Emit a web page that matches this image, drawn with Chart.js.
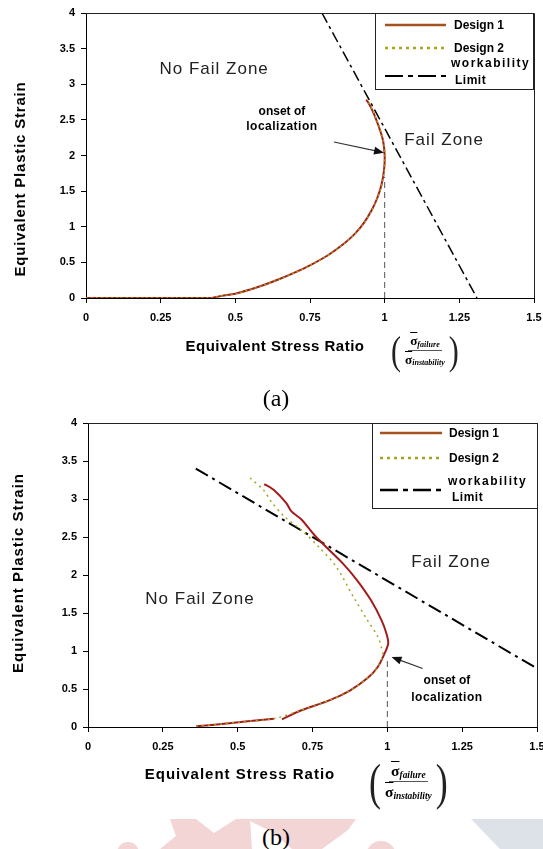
<!DOCTYPE html>
<html>
<head>
<meta charset="utf-8">
<script src="https://cdn.jsdelivr.net/npm/chart.js@4.4.0/dist/chart.umd.min.js"></script>
<style>
  html, body { margin: 0; padding: 0; background: #fff; }
  #page { position: relative; width: 543px; height: 849px; overflow: hidden; font-family: "Liberation Sans", Arial, sans-serif; }
  canvas { position: absolute; left: 0; }
  .ytitle { position: absolute; font-weight: bold; white-space: nowrap; transform: translate(-50%, -50%) rotate(-90deg); }
  .xtitle { position: absolute; font-weight: bold; white-space: nowrap; transform: translate(-50%, -50%); }
  .cap { position: absolute; font-family: "Liberation Serif", serif; font-size: 24px; transform: translate(-50%, -50%); }
  .frac { position: absolute; display: flex; align-items: center; font-family: "Liberation Serif", serif; }
  .par { display: inline-block; line-height: 1; font-weight: normal; color: #222; }
  .fr { display: inline-flex; flex-direction: column; align-items: center; margin: 0 2px; }
  .fr > span { white-space: nowrap; padding: 0 2px; line-height: 1.3; }
  .fr .num { border-bottom: 1px solid #555; }
  .sig { font-weight: bold; text-decoration: overline; font-style: normal; font-size: 1.15em; }
  .fr i { font-weight: bold; font-size: 0.7em; position: relative; top: 0.2em; }
  svg { position: absolute; left: 0; top: 0; }
</style>
</head>
<body>
<div id="page">
  <svg width="543" height="849">
    <circle cx="128" cy="853" r="11" fill="#f3d5d5"/>
    <polygon points="170,819 196,819 214,833 236,819 250,819 252,849 160,849 176,836" fill="#f3d5d5"/>
    <polygon points="246,819 356,819 348,830 322,849 292,849 272,832" fill="#f3d5d5"/>
    <circle cx="381" cy="856" r="15" fill="#f3d5d5"/>
    <polygon points="471,819 543,819 543,849 500,849" fill="#dde1e8"/>
  </svg>
  <canvas id="chartA" width="543" height="380" style="top:0"></canvas>
  <canvas id="chartB" width="543" height="410" style="top:400px"></canvas>

  <div class="ytitle" style="left:19px; top:179px; font-size:15px; letter-spacing:0.8px">Equivalent Plastic Strain</div>
  <div class="xtitle" style="left:275px; top:345px; font-size:15px; letter-spacing:0.5px">Equivalent Stress Ratio</div>
  <div class="frac" style="left:391px; top:330px; height:40px; font-size:11.5px">
    <span class="par" style="font-size:30px; transform:scaleY(1.35)">(</span>
    <span class="fr"><span class="num"><span class="sig">σ</span><i>failure</i></span><span><span class="sig">σ</span><i>instability</i></span></span>
    <span class="par" style="font-size:30px; transform:scaleY(1.35)">)</span>
  </div>
  <div class="cap" style="left:276px; top:398px">(a)</div>

  <div class="ytitle" style="left:17px; top:573px; font-size:15px; letter-spacing:1px">Equivalent Plastic Strain</div>
  <div class="xtitle" style="left:240px; top:773px; font-size:15px; letter-spacing:1px">Equivalent Stress Ratio</div>
  <div class="frac" style="left:369px; top:757px; height:49px; font-size:13.5px">
    <span class="par" style="font-size:36px; transform:scaleY(1.4)">(</span>
    <span class="fr"><span class="num"><span class="sig">σ</span><i>failure</i></span><span><span class="sig">σ</span><i>instability</i></span></span>
    <span class="par" style="font-size:36px; transform:scaleY(1.4)">)</span>
  </div>
  <div class="cap" style="left:276px; top:837px">(b)</div>
</div>

<script>
const xTickLabels = ['0', '0.25', '0.5', '0.75', '1', '1.25', '1.5'];
const yTickLabels = ['0', '0.5', '1', '1.5', '2', '2.5', '3', '3.5', '4'];
const seriesNames = ['Design 1', 'Design 2', 'workability', 'Limit'];

// chart (a)
const aDesign1X = [0, 0.1, 0.2, 0.3, 0.42, 0.454, 0.5, 0.55, 0.6, 0.65, 0.7, 0.755, 0.81, 0.86, 0.9, 0.93, 0.955, 0.975, 0.99, 0.998, 1.0, 0.995, 0.984, 0.972, 0.958, 0.944, 0.938];
const aDesign1Y = [0, 0, 0, 0, 0, 0.03, 0.06, 0.12, 0.19, 0.27, 0.36, 0.47, 0.6, 0.75, 0.9, 1.05, 1.22, 1.4, 1.6, 1.8, 2.0, 2.2, 2.36, 2.5, 2.64, 2.75, 2.78];
const aDesign2X = [0, 0.1, 0.2, 0.3, 0.42, 0.455, 0.501, 0.551, 0.601, 0.651, 0.701, 0.756, 0.811, 0.861, 0.901, 0.931, 0.956, 0.976, 0.991, 0.999, 1.001, 0.996, 0.985, 0.973, 0.959, 0.946, 0.94];
const aDesign2Y = [0, 0, 0, 0, 0, 0.03, 0.06, 0.12, 0.19, 0.27, 0.36, 0.47, 0.6, 0.75, 0.9, 1.05, 1.22, 1.4, 1.6, 1.8, 2.0, 2.2, 2.36, 2.5, 2.64, 2.75, 2.79];
const aLimitX = [0.79, 1.309];
const aLimitY = [4, 0];
const aOnsetX = [1, 1];
const aOnsetY = [0, 1.7];

// chart (b)
const bDesign1X = [0.361, 0.448, 0.517, 0.621, 0.632, 0.648, 0.713, 0.806, 0.875, 0.933, 0.968, 0.991, 1.003, 0.997, 0.98, 0.945, 0.899, 0.852, 0.806, 0.76, 0.713, 0.679, 0.662, 0.621, 0.592, 0.589];
const bDesign1Y = [0.01, 0.04, 0.07, 0.11, null, 0.1, 0.22, 0.35, 0.48, 0.64, 0.79, 0.97, 1.1, 1.23, 1.41, 1.67, 1.93, 2.15, 2.33, 2.51, 2.73, 2.84, 2.95, 3.12, 3.19, 3.18];
const bDesign2X = [0.361, 0.448, 0.517, 0.621, 0.713, 0.806, 0.875, 0.933, 0.968, 0.985, 0.98, 0.968, 0.933, 0.887, 0.829, 0.771, 0.713, 0.656, 0.615, 0.586, 0.54];
const bDesign2Y = [0.01, 0.04, 0.07, 0.11, 0.22, 0.35, 0.48, 0.64, 0.79, 0.95, 1.05, 1.19, 1.41, 1.71, 2.11, 2.37, 2.59, 2.77, 2.95, 3.12, 3.28];
const bLimitX = [0.36, 1.5];
const bLimitY = [3.4, 0.77];
const bOnsetX = [1, 1];
const bOnsetY = [0, 0.88];

const FONT = '"Liberation Sans", Arial, sans-serif';
Chart.defaults.font.family = FONT;

function pts(xs, ys) {
  return xs.map((v, i) => ({ x: v, y: ys[i] }));
}

// frame, zone labels, arrow and the boxed legend
const decor = {
  id: 'decor',
  afterDatasetsDraw(chart, args, o) {
    const { ctx, chartArea: a, scales } = chart;
    const px = v => scales.x.getPixelForValue(v);
    const py = v => scales.y.getPixelForValue(v);
    ctx.save();
    ctx.strokeStyle = '#222';
    ctx.lineWidth = 1;
    ctx.beginPath();
    ctx.moveTo(a.left, Math.round(a.top) + 0.5);
    ctx.lineTo(Math.round(a.right) + 0.5, Math.round(a.top) + 0.5);
    ctx.lineTo(Math.round(a.right) + 0.5, a.bottom);
    ctx.stroke();

    ctx.textAlign = 'center';
    ctx.textBaseline = 'middle';
    for (const t of o.texts) {
      ctx.font = t.font;
      ctx.fillStyle = t.color;
      ctx.letterSpacing = t.ls || '0px';
      ctx.fillText(t.text, px(t.x), py(t.y));
    }
    ctx.letterSpacing = '0px';

    // arrow
    const ar = o.arrow;
    const x0 = px(ar.from[0]), y0 = py(ar.from[1]);
    const x1 = px(ar.to[0]), y1 = py(ar.to[1]);
    const ang = Math.atan2(y1 - y0, x1 - x0);
    ctx.strokeStyle = '#333';
    ctx.lineWidth = 1.2;
    ctx.beginPath();
    ctx.moveTo(x0, y0);
    ctx.lineTo(x1 - 6 * Math.cos(ang), y1 - 6 * Math.sin(ang));
    ctx.stroke();
    ctx.fillStyle = '#111';
    ctx.beginPath();
    ctx.moveTo(x1, y1);
    ctx.lineTo(x1 - 10 * Math.cos(ang) + 4 * Math.sin(ang), y1 - 10 * Math.sin(ang) - 4 * Math.cos(ang));
    ctx.lineTo(x1 - 10 * Math.cos(ang) - 4 * Math.sin(ang), y1 - 10 * Math.sin(ang) + 4 * Math.cos(ang));
    ctx.closePath();
    ctx.fill();

    // legend
    const L = o.legend;
    const [bl, bt, br, bb] = L.box;
    ctx.fillStyle = '#fff';
    ctx.fillRect(bl, bt, br - bl, bb - bt);
    ctx.strokeStyle = '#222';
    ctx.lineWidth = 1;
    ctx.strokeRect(bl + 0.5, bt + 0.5, br - bl, bb - bt);
    ctx.textAlign = 'left';
    for (const it of L.items) {
      ctx.strokeStyle = it.color;
      ctx.lineWidth = it.width;
      ctx.setLineDash(it.dash);
      ctx.beginPath();
      ctx.moveTo(L.lineX[0], it.ly);
      ctx.lineTo(L.lineX[1], it.ly);
      ctx.stroke();
      ctx.setLineDash([]);
      ctx.fillStyle = '#000';
      for (const lb of it.labels) {
        ctx.font = 'bold 12px ' + FONT;
        ctx.letterSpacing = lb[3] || '0px';
        ctx.fillText(lb[0], lb[2], lb[1]);
      }
      ctx.letterSpacing = '0px';
    }
    ctx.restore();
  }
};

function makeChart(id, sets, yW, xH, pad, deco) {
  return new Chart(document.getElementById(id), {
    type: 'scatter',
    data: { datasets: sets },
    options: {
      responsive: false,
      animation: false,
      devicePixelRatio: 1,
      layout: { padding: pad },
      elements: { point: { radius: 0 } },
      plugins: { legend: { display: false }, tooltip: { enabled: false }, decor: deco },
      scales: {
        x: {
          type: 'linear', min: 0, max: 1.5,
          afterFit: s => { s.height = xH; s.paddingLeft = 0; s.paddingRight = 0; },
          ticks: {
            stepSize: 0.25, padding: 8, color: '#000',
            font: { size: 11, weight: 'bold' },
            callback: (v, i) => xTickLabels[i]
          },
          grid: { drawOnChartArea: false, color: '#000', tickLength: 5 },
          border: { color: '#000', width: 1 }
        },
        y: {
          type: 'linear', min: 0, max: 4,
          afterFit: s => { s.width = yW; },
          ticks: {
            stepSize: 0.5, padding: 6, color: '#000',
            font: { size: 11, weight: 'bold' },
            callback: (v, i) => yTickLabels[i]
          },
          grid: { drawOnChartArea: false, color: '#000', tickLength: 5 },
          border: { color: '#000', width: 1 }
        }
      }
    },
    plugins: [decor]
  });
}

const design1Color = '#a31b1b';
const design2Color = '#a6a31c';

makeChart('chartA', [
  { label: seriesNames[0], data: pts(aDesign1X, aDesign1Y), showLine: true, borderColor: design1Color, borderWidth: 2, tension: 0.3, order: 2 },
  { label: seriesNames[1], data: pts(aDesign2X, aDesign2Y), showLine: true, borderColor: design2Color, borderWidth: 1.5, borderDash: [2, 3], tension: 0.3, order: 1 },
  { label: seriesNames[2] + ' ' + seriesNames[3], data: pts(aLimitX, aLimitY), showLine: true, borderColor: '#000', borderWidth: 1.5, borderDash: [11, 4, 3, 4], order: 3 },
  { label: 'onset', data: pts(aOnsetX, aOnsetY), showLine: true, borderColor: '#555', borderWidth: 1, borderDash: [6, 4], order: 4 }
], 86, 82, { left: 0, right: 9, top: 13, bottom: 0 }, {
  texts: [
    { text: 'No Fail Zone', x: 0.429, y: 3.21, font: '17px ' + FONT, color: '#222', ls: '1px' },
    { text: 'Fail Zone', x: 1.199, y: 2.22, font: '17px ' + FONT, color: '#222', ls: '1px' },
    { text: 'onset of', x: 0.656, y: 2.62, font: 'bold 12px ' + FONT, color: '#000' },
    { text: 'localization', x: 0.656, y: 2.40, font: 'bold 12px ' + FONT, color: '#000', ls: '0.5px' }
  ],
  arrow: { from: [0.83, 2.19], to: [0.998, 2.04] },
  legend: {
    box: [375, 13, 533, 89], lineX: [385, 446],
    items: [
      { ly: 25, color: '#a5521f', width: 2.5, dash: [], labels: [[seriesNames[0], 26, 454]] },
      { ly: 48, color: design2Color, width: 2.5, dash: [3, 4], labels: [[seriesNames[1], 49, 454]] },
      { ly: 76, color: '#000', width: 2, dash: [18, 5, 5, 5], labels: [[seriesNames[2], 64, 451, '1.5px'], [seriesNames[3], 81, 455, '0.5px']] }
    ]
  }
});

makeChart('chartB', [
  { label: seriesNames[0], data: pts(bDesign1X, bDesign1Y), showLine: true, borderColor: design1Color, borderWidth: 2, tension: 0.3, spanGaps: false, order: 2 },
  { label: seriesNames[1], data: pts(bDesign2X, bDesign2Y), showLine: true, borderColor: design2Color, borderWidth: 1.5, borderDash: [2, 4], tension: 0.3, order: 1 },
  { label: seriesNames[2] + ' ' + seriesNames[3], data: pts(bLimitX, bLimitY), showLine: true, borderColor: '#000', borderWidth: 2, borderDash: [14, 5, 3, 5], order: 3 },
  { label: 'onset', data: pts(bOnsetX, bOnsetY), showLine: true, borderColor: '#555', borderWidth: 1, borderDash: [6, 4], order: 4 }
], 88, 83, { left: 0, right: 6, top: 23, bottom: 0 }, {
  texts: [
    { text: 'No Fail Zone', x: 0.374, y: 1.68, font: '17px ' + FONT, color: '#222', ls: '1px' },
    { text: 'Fail Zone', x: 1.213, y: 2.17, font: '17px ' + FONT, color: '#222', ls: '1px' },
    { text: 'onset of', x: 1.199, y: 0.61, font: 'bold 12px ' + FONT, color: '#000' },
    { text: 'localization', x: 1.199, y: 0.39, font: 'bold 12px ' + FONT, color: '#000', ls: '0.5px' }
  ],
  arrow: { from: [1.118, 0.77], to: [1.014, 0.92] },
  legend: {
    box: [372, 23, 537, 108], lineX: [380, 442],
    items: [
      { ly: 33, color: '#a5521f', width: 2.5, dash: [], labels: [[seriesNames[0], 34, 449]] },
      { ly: 58, color: design2Color, width: 2.5, dash: [3, 4], labels: [[seriesNames[1], 59, 449]] },
      { ly: 90, color: '#000', width: 2.5, dash: [18, 5, 5, 5], labels: [[seriesNames[2], 82, 448, '1.5px'], [seriesNames[3], 98, 452, '0.5px']] }
    ]
  }
});
</script>
</body>
</html>
